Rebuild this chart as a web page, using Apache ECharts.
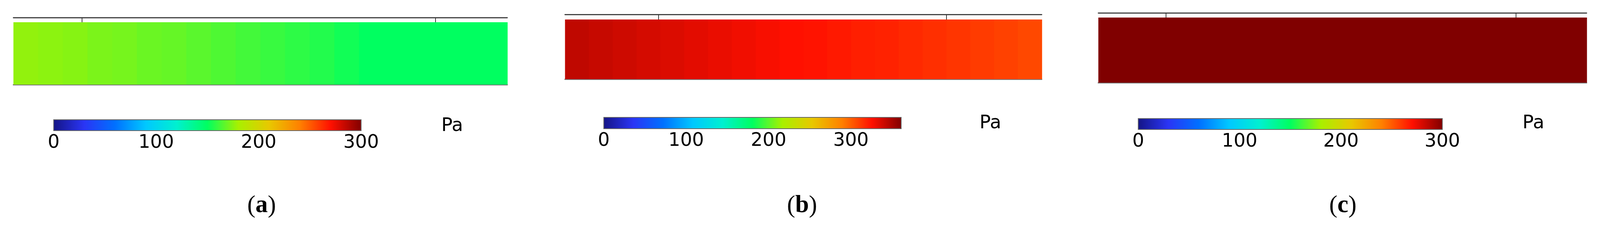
<!DOCTYPE html>
<html><head><meta charset="utf-8">
<script src="https://cdn.jsdelivr.net/npm/echarts@6/dist/echarts.min.js"></script>
<style>html,body{margin:0;padding:0;background:#fff;overflow:hidden}#c{width:100vw;height:100vh}</style>
</head><body><div id="c"></div>
<script>
// positions along the channel (% of length), segment starts
const segX = [0,5,10,15,20,25,30,35,40,45,50,55,60,65,70,75,80,85,90,95,100];
// pressure (Pa)
const fieldA = [176,175,174,172,171,169,168,166,164,162,160,158,156,153,150,150,150,150,150,150];
const fieldB = [343,341,339,337,335,333,331,329,327,325,324,322,320,319,317,315,313,311,309,307];
const fieldC = [300,300,300,300,300,300,300,300,300,300,300,300,300,300,300,300,300,300,300,300];
// colour bar ranges and tick labels
const barMax = [300, 361, 300];
const barTicks = [0, 100, 200, 300];
const unitLabel = 'Pa';
const panelLabels = ['a', 'b', 'c'];
const jet = ['#141485','#2a35f5','#0070ff','#00c8ff','#00f0d0','#00ff60','#a8f000','#e8c800','#ff8000','#ff1000','#800000'];

const el=document.getElementById('c');
const kx = el.clientWidth/4293, ky = el.clientHeight/577, k=Math.min(kx,ky);
const fields = [fieldA, fieldB, fieldC];
const L = {
  field: [[36,57,1325,160],[1516,50,1279,153],[2947,45,1310,167]],
  gap: [12,13,12],
  topTicks: [[13.9,85.5],[19.6,80.0],[13.8,85.5]],
  bar: [[144,307,825,28],[1620,301,798,29],[3054,304,816,28]],
  pa: [[1184,300],[2628,293],[4085,293]],
  lab: [702,2152,3603]
};
const grids=[], xAxes=[], yAxes=[], series=[], visualMaps=[], graphics=[];
fields.forEach((vals,p)=>{
  const f=L.field[p], b=L.bar[p];
  const gF=grids.length; grids.push({left:f[0]*kx,top:f[1]*ky,width:f[2]*kx,height:f[3]*ky});
  const gB=grids.length; grids.push({left:b[0]*kx,top:b[1]*ky,width:b[2]*kx,height:b[3]*ky});
  const xF=xAxes.length;
  xAxes.push({gridIndex:gF,type:'value',min:0,max:100,position:'top',offset:0,
    axisLine:{show:true,lineStyle:{color:'#666',width:3*k}},axisTick:{show:false},axisLabel:{show:false},splitLine:{show:false}});
  xAxes.push({gridIndex:gF,type:'value',min:0,max:100,position:'top',offset:L.gap[p]*ky,
    axisLine:{show:true,lineStyle:{color:'#444',width:3*k}},
    axisTick:{show:true,inside:true,length:L.gap[p]*ky,customValues:L.topTicks[p],lineStyle:{color:'#333',width:2*k}},
    axisLabel:{show:false},splitLine:{show:false}});
  xAxes.push({gridIndex:gF,type:'value',min:0,max:100,position:'bottom',
    axisLine:{show:true,lineStyle:{color:'#777',width:3*k}},axisTick:{show:false},axisLabel:{show:false},splitLine:{show:false}});
  const yF=yAxes.length; yAxes.push({gridIndex:gF,type:'value',min:0,max:1,show:false});
  const xB=xAxes.length;
  xAxes.push({gridIndex:gB,type:'value',min:0,max:barMax[p],position:'bottom',
    axisLine:{show:false},
    axisTick:{show:true,inside:true,length:8*ky,customValues:barTicks.filter(v=>v>0&&v<barMax[p]),lineStyle:{color:'#222',width:2*k}},
    axisLabel:{show:true,customValues:barTicks,fontSize:50*k,fontFamily:'DejaVu Sans',color:'#000',margin:8*ky},
    splitLine:{show:false}});
  const yB=yAxes.length; yAxes.push({gridIndex:gB,type:'value',min:0,max:1,show:false});
  const sF=series.length;
  series.push({type:'custom',xAxisIndex:xF,yAxisIndex:yF,
    data:vals.map((v,i)=>[segX[i],segX[i+1],v]),
    encode:{x:[0,1]},
    renderItem:(params,api)=>{
      const s=api.coord([api.value(0),1]), e=api.coord([api.value(1),0]);
      return {type:'rect',shape:{x:s[0],y:s[1],width:e[0]-s[0]+1,height:e[1]-s[1]},
        style:{fill:api.visual('color')}};
    }});
  visualMaps.push({type:'continuous',show:false,min:0,max:barMax[p],dimension:2,seriesIndex:sF,inRange:{color:jet}});
  series.push({type:'custom',xAxisIndex:xB,yAxisIndex:yB,data:[[0,barMax[p]]],encode:{x:[0,1]},
    renderItem:(params,api)=>{
      const s=api.coord([api.value(0),1]), e=api.coord([api.value(1),0]);
      return {type:'rect',shape:{x:s[0],y:s[1],width:e[0]-s[0],height:e[1]-s[1]},
        style:{fill:new echarts.graphic.LinearGradient(0,0,1,0,jet.map((c,i)=>({offset:i/(jet.length-1),color:c}))),
          stroke:'#666',lineWidth:2*k}};
    }});
  graphics.push({type:'text',left:L.pa[p][0]*kx,top:L.pa[p][1]*ky,
    style:{text:unitLabel,fontSize:50*k,fontFamily:'DejaVu Sans',fill:'#000'}});
  graphics.push({type:'text',x:L.lab[p]*kx,y:528*ky,
    style:{text:'{n|(}{b|'+panelLabels[p]+'}{n|)}',align:'center',verticalAlign:'middle',
      rich:{n:{fontSize:66*k,fontFamily:'Liberation Serif',fill:'#000'},b:{fontSize:66*k,fontFamily:'Liberation Serif',fontWeight:'bold',fill:'#000'}}}});
});
const chart=echarts.init(el,null,{renderer:'canvas'});
chart.setOption({animation:false,backgroundColor:'#fff',grid:grids,xAxis:xAxes,yAxis:yAxes,
  visualMap:visualMaps,series:series,graphic:graphics});
</script></body></html>
